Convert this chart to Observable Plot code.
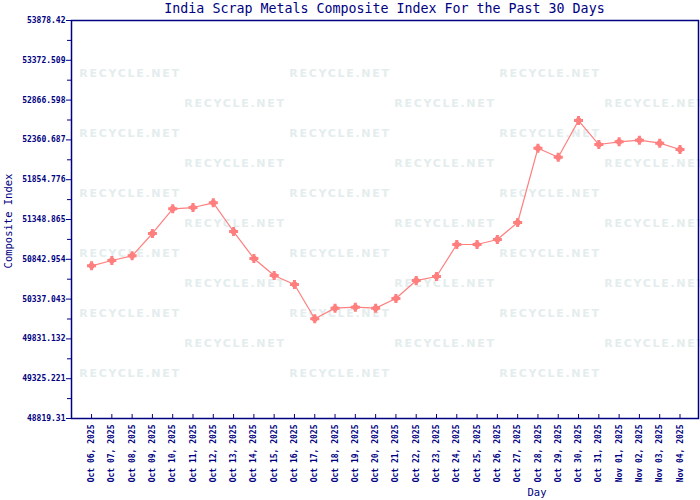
<!DOCTYPE html>
<html>
<head>
<meta charset="utf-8">
<script src="https://cdn.jsdelivr.net/npm/d3@7"></script>
<script src="https://cdn.jsdelivr.net/npm/@observablehq/plot@0.6"></script>
<style>
  body { margin: 0; background: #fff; }
  #wrap { position: relative; width: 700px; height: 500px; overflow: hidden; background: #fff; }
  #wm { position: absolute; left: 0; top: 0; width: 700px; height: 500px; z-index: 0; }
  .wmt { position: absolute; font: bold 11px "DejaVu Sans", sans-serif; letter-spacing: 1.7px; color: #e4eded; white-space: nowrap; transform: translate(-50%, -50%); }
  #chart { position: absolute; left: 0; top: 0; z-index: 1; }
  #title { position: absolute; left: 71px; width: 627px; top: 1px; text-align: center; font: 13.3px "DejaVu Sans Mono", monospace; color: #000080; z-index: 2; }
  #xlab { position: absolute; left: 537px; top: 486px; transform: translateX(-50%); font: 10.5px "DejaVu Sans Mono", monospace; color: #000080; z-index: 2; }
  #ylab { position: absolute; left: 8px; top: 221px; transform: translate(-50%, -50%) rotate(-90deg); font: 10.5px "DejaVu Sans Mono", monospace; color: #000080; white-space: nowrap; z-index: 2; }
</style>
</head>
<body>
<div id="wrap">
  <div id="wm"></div>
  <div id="chart"></div>
  <div id="title">India Scrap Metals Composite Index For the Past 30 Days</div>
  <div id="ylab">Composite Index</div>
  <div id="xlab">Day</div>
</div>
<script>
const days = ["Oct 06, 2025","Oct 07, 2025","Oct 08, 2025","Oct 09, 2025","Oct 10, 2025","Oct 11, 2025","Oct 12, 2025","Oct 13, 2025","Oct 14, 2025","Oct 15, 2025","Oct 16, 2025","Oct 17, 2025","Oct 18, 2025","Oct 19, 2025","Oct 20, 2025","Oct 21, 2025","Oct 22, 2025","Oct 23, 2025","Oct 24, 2025","Oct 25, 2025","Oct 26, 2025","Oct 27, 2025","Oct 28, 2025","Oct 29, 2025","Oct 30, 2025","Oct 31, 2025","Nov 01, 2025","Nov 02, 2025","Nov 03, 2025","Nov 04, 2025"];
const values = [50760, 50828, 50887, 51171, 51485, 51501, 51561, 51196, 50853, 50637, 50523, 50087, 50222, 50234, 50222, 50345, 50573, 50624, 51031, 51031, 51095, 51311, 52255, 52141, 52607, 52302, 52336, 52357, 52319, 52239];
const yTickLabels = ["48819.31","49325.221","49831.132","50337.043","50842.954","51348.865","51854.776","52360.687","52866.598","53372.509","53878.42"];
const yTicks = yTickLabels.map(Number);
const yMinor = yTicks.slice(0, -1).map((v, i) => (v + yTicks[i + 1]) / 2);
const yLabelOf = new Map(yTicks.map((v, i) => [v, yTickLabels[i]]));

const data = days.map((d, i) => ({day: d, value: values[i]}));
const navy = "#000080";
const pink = "#ff7f7f";

// watermark layer (decorative background)
const wm = document.getElementById("wm");
for (let r = 0; r < 11; r++) {
  const cols = r % 2 === 0 ? [130, 340, 550] : [235, 445, 655];
  for (const cx of cols) {
    const s = document.createElement("div");
    s.className = "wmt";
    s.textContent = "RECYCLE.NET";
    s.style.left = cx + "px";
    s.style.top = (73 + 30 * r) + "px";
    wm.appendChild(s);
  }
}

const chart = Plot.plot({
  width: 700,
  height: 500,
  marginTop: 20,
  marginBottom: 82,
  marginLeft: 71,
  marginRight: 2,
  style: {background: "transparent", color: navy, fontFamily: "'DejaVu Sans Mono', monospace"},
  x: {type: "point", domain: days, padding: 0.95, align: 0.52, round: false},
  y: {domain: [yTicks[0], yTicks[yTicks.length - 1]]},
  marks: [
    Plot.axisY({ticks: yTicks, tickSize: 5, tickPadding: 1, tickFormat: d => yLabelOf.get(d), fontSize: 8, fontWeight: "bold", fill: navy, stroke: navy, label: null}),
    Plot.axisY({ticks: yMinor, tickSize: 4, tickFormat: () => "", stroke: navy, label: null}),
    Plot.axisX({ticks: days, tickSize: -4, tickFormat: () => "", stroke: navy, label: null}),
    Plot.axisX({ticks: days, tickSize: 0, tickPadding: 6, tickRotate: -90, fontSize: 8, fontWeight: "bold", fill: navy, label: null}),
    Plot.frame({stroke: navy, strokeWidth: 1.5}),
    Plot.line(data, {x: "day", y: "value", stroke: pink, strokeWidth: 1.2}),
    Plot.dot(data, {x: "day", y: "value", fill: pink, r: 3, symbol: "circle"}),
    Plot.dot(data, {x: "day", y: "value", fill: pink, r: 3.8, symbol: "cross"})
  ]
});
document.getElementById("chart").appendChild(chart);
</script>
</body>
</html>
